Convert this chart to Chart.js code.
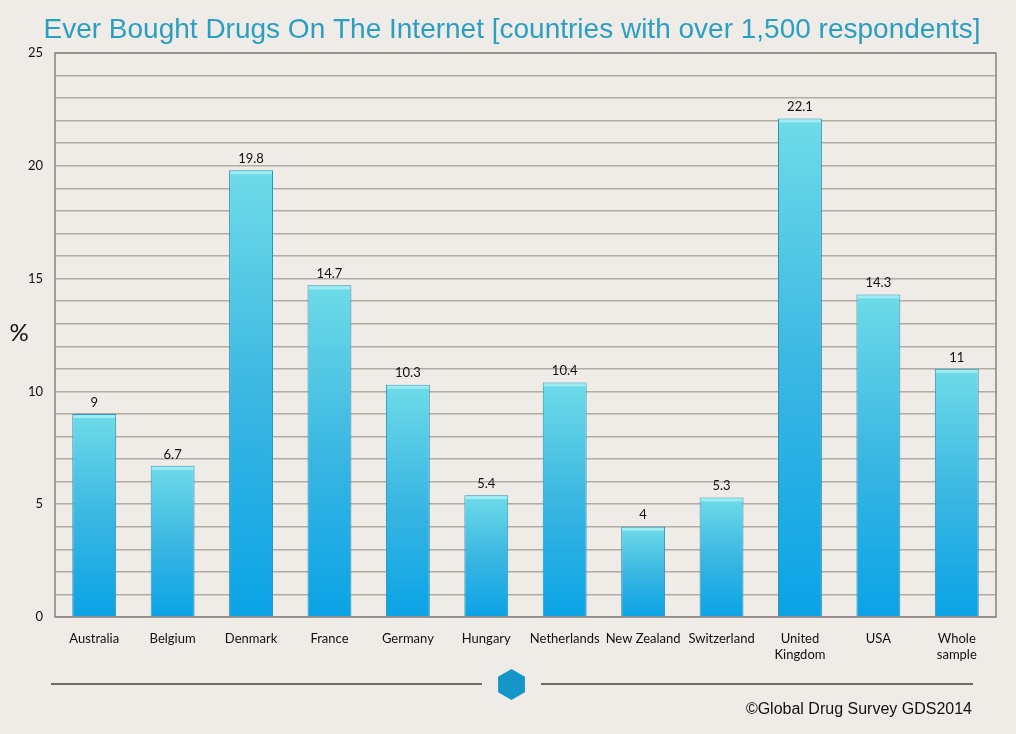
<!DOCTYPE html>
<html lang="en">
<head>
  <meta charset="UTF-8">
  <title>Ever Bought Drugs On The Internet</title>
  <script src="https://cdn.jsdelivr.net/npm/chart.js"></script>
  <style>
    html, body {
      margin: 0;
      padding: 0;
      background: #efebe7;
    }
    #wrap {
      width: 1016px;
      height: 734px;
    }
  </style>
</head>
<body>
  <div id="wrap"><canvas id="drugChart"></canvas></div>

  <script>
    // data
    const countries = ['Australia', 'Belgium', 'Denmark', 'France', 'Germany', 'Hungary',
      'Netherlands', 'New Zealand', 'Switzerland', ['United', 'Kingdom'], 'USA', ['Whole', 'sample']];
    const percentBought = [9, 6.7, 19.8, 14.7, 10.3, 5.4, 10.4, 4, 5.3, 22.1, 14.3, 11];
    const titleText = 'Ever Bought Drugs On The Internet [countries with over 1,500 respondents]';
    const creditText = '\u00A9Global Drug Survey GDS2014';
    const yAxisText = '%';

    const tickFont = "'Lato', 'Open Sans', sans-serif";
    const arialish = "'Liberation Sans', Arial, sans-serif";

    // each bar gets its own top-to-bottom gradient
    function barGradient(c) {
      const chart = c.chart;
      if (!chart.chartArea) return '#2ab4e4';
      const y = chart.scales.y;
      const top = y.getPixelForValue(c.raw);
      const bottom = y.getPixelForValue(0);
      const g = chart.ctx.createLinearGradient(0, top, 0, bottom);
      g.addColorStop(0, '#6edbe8');
      g.addColorStop(0.5, '#3bb7e2');
      g.addColorStop(1, '#0aa3e6');
      return g;
    }

    // title, frame, value labels, footer
    const extras = {
      id: 'extras',
      beforeDatasetsDraw(chart) {
        const { ctx, chartArea: a } = chart;
        ctx.save();
        ctx.strokeStyle = '#8a8280';
        ctx.lineWidth = 1.5;
        ctx.strokeRect(a.left, a.top, a.right - a.left, a.bottom - a.top);
        ctx.restore();
      },
      afterDatasetsDraw(chart) {
        const { ctx } = chart;
        const meta = chart.getDatasetMeta(0);
        ctx.save();
        // light bevel on bar tops
        meta.data.forEach(bar => {
          ctx.fillStyle = 'rgba(170,240,245,0.8)';
          ctx.fillRect(bar.x - bar.width / 2 + 1, bar.y + 1, bar.width - 2, 3);
        });
        ctx.fillStyle = '#111';
        ctx.font = "13px " + tickFont;
        ctx.textAlign = 'center';
        ctx.textBaseline = 'bottom';
        meta.data.forEach((bar, i) => {
          ctx.fillText(String(percentBought[i]), bar.x, bar.y - 5);
        });
        ctx.restore();
      },
      afterDraw(chart) {
        const { ctx } = chart;
        ctx.save();
        ctx.fillStyle = '#2b9fc2';
        ctx.font = "28px " + arialish;
        ctx.textAlign = 'center';
        ctx.textBaseline = 'middle';
        ctx.fillText(titleText, 512, 30);

        ctx.fillStyle = '#111';
        ctx.font = "24px " + tickFont;
        ctx.fillText(yAxisText, 19, 333);

        // divider with hexagon
        ctx.strokeStyle = '#4a4240';
        ctx.lineWidth = 1.3;
        ctx.beginPath();
        ctx.moveTo(51, 684); ctx.lineTo(482, 684);
        ctx.moveTo(541, 684); ctx.lineTo(973, 684);
        ctx.stroke();
        const cx = 511.5, cy = 684.5, r = 15.5;
        ctx.fillStyle = '#1496c9';
        ctx.beginPath();
        for (let k = 0; k < 6; k++) {
          const ang = Math.PI / 2 + k * Math.PI / 3;
          const px = cx + r * Math.cos(ang);
          const py = cy + r * Math.sin(ang);
          if (k === 0) ctx.moveTo(px, py); else ctx.lineTo(px, py);
        }
        ctx.closePath();
        ctx.fill();

        ctx.fillStyle = '#111';
        ctx.font = "16px " + arialish;
        ctx.textAlign = 'right';
        ctx.fillText(creditText, 972, 710);
        ctx.restore();
      }
    };

    new Chart(document.getElementById('drugChart'), {
      type: 'bar',
      data: {
        labels: countries,
        datasets: [{
          data: percentBought,
          backgroundColor: barGradient,
          borderColor: '#2f93b6',
          borderWidth: 1,
          barPercentage: 0.56,
          categoryPercentage: 1
        }]
      },
      options: {
        responsive: true,
        maintainAspectRatio: false,
        animation: false,
        layout: { padding: { top: 53, right: 20, bottom: 0, left: 0 } },
        plugins: {
          legend: { display: false },
          tooltip: { enabled: false }
        },
        scales: {
          x: {
            grid: { display: false },
            border: { display: false },
            ticks: {
              color: '#111',
              font: { family: tickFont, size: 13 },
              padding: 6,
              maxRotation: 0,
              autoSkip: false
            },
            afterFit(s) { s.height = 117; }
          },
          y: {
            min: 0,
            max: 25,
            border: { display: false },
            grid: { color: '#b3aba5', lineWidth: 1.5, drawTicks: false },
            ticks: {
              stepSize: 1,
              color: '#111',
              font: { family: tickFont, size: 13 },
              padding: 12,
              callback: v => (v % 5 === 0 ? v : '')
            },
            afterFit(s) { s.width = 55; }
          }
        }
      },
      plugins: [extras]
    });
  </script>
</body>
</html>
